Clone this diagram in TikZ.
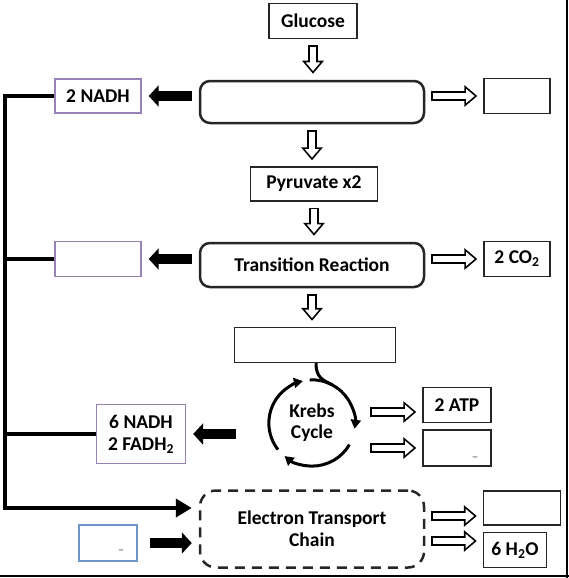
\documentclass[tikz,border=0pt]{standalone}
\usepackage{fontspec}
\setmainfont{Carlito}
\usetikzlibrary{arrows.meta,positioning}
\definecolor{purpedge}{RGB}{150,130,180}
\definecolor{blueedge}{RGB}{110,150,200}

\begin{document}
\begin{tikzpicture}[x=1pt,y=-1pt,
  box/.style={draw=black!85,line width=1.4pt,inner sep=2pt,align=center,
    font=\fontsize{19.5}{22}\selectfont\bfseries},
  stage/.style={box,rounded corners=10pt,line width=2.5pt,minimum width=224pt},
  hol/.style={line width=10pt,-{Triangle[length=13pt,width=21pt]},shorten <=6pt,shorten >=6pt,
    postaction={draw=white,line width=6.6pt,shorten <=7.7pt,shorten >=8.7pt,
      -{Triangle[length=8.6pt,width=13.9pt]}}},
  blk/.style={line width=9.5pt,-{Triangle[length=10pt,width=21pt]},shorten <=7pt,shorten >=7pt},
  bus/.style={line width=4.5pt},
  cyc/.style={line width=3pt,-{Triangle[length=9pt,width=10pt]}}]
\useasboundingbox (0,0) rectangle (569,578);

% main column
\node[box,minimum width=88pt,minimum height=35pt] (glucose) at (313,21) {Glucose};
\node[stage,minimum height=42pt] (glyco) at (312,102) {};
\node[box,minimum width=127pt,minimum height=34pt] (pyruvate) at (314,184) {Pyruvate x2};
\node[stage,minimum height=44pt] (transition) at (312,265) {Transition Reaction};
\node[box,minimum width=161pt,minimum height=35pt] (acetyl) at (315,345) {};
\node[circle,minimum size=86pt,inner sep=0pt,align=center,
  font=\fontsize{19.5}{21}\selectfont\bfseries] (krebs) at (312,423) {Krebs\\Cycle};
\node[stage,dashed,dash pattern=on 10pt off 7pt,rounded corners=16pt,minimum height=77pt]
  (etc) at (312,529) {Electron Transport\\Chain};

% left side
\node[box,draw=purpedge,minimum width=86pt,minimum height=34pt] (nadhA) at (98,96) {2 NADH};
\node[box,draw=purpedge,minimum width=86pt,minimum height=35pt] (nadhB) at (98,259) {};
\node[box,draw=purpedge,minimum width=89pt,minimum height=59pt] (nadhC) at (141,434) {6 NADH\\2 FADH\textsubscript{2}};
\node[box,draw=blueedge,minimum width=58pt,minimum height=36pt] (oxygen) at (108,543) {};

% right side
\node[box,minimum width=66pt,minimum height=35pt] (atpA) at (517,96) {};
\node[box,minimum width=66pt,minimum height=35pt] (co2) at (517,259) {2 CO\textsubscript{2}};
\node[box,minimum width=68pt,minimum height=35pt] (atpB) at (457,405) {2 ATP};
\node[box,minimum width=68pt,minimum height=36pt] (fadh) at (457,448) {};
\node[box,minimum width=77pt,minimum height=34pt] (atpC) at (522,508) {};
\node[box,minimum width=63pt,minimum height=35pt] (water) at (515,550) {6 H\textsubscript{2}O};

% blanks
\node[font=\fontsize{9}{9}\selectfont] (blankA) at (475,457) {\_};
\node[font=\fontsize{9}{9}\selectfont] (blankB) at (121,550) {\_};

% hollow arrows
\draw[hol] (glucose.south) -- (glucose.south |- glyco.north);
\draw[hol] (glyco.south) -- (glyco.south |- pyruvate.north);
\draw[hol] (pyruvate.south) -- (pyruvate.south |- transition.north);
\draw[hol] (transition.south) -- (transition.south |- acetyl.north);
\draw[hol] (glyco.east |- atpA.west) -- (atpA.west);
\draw[hol] (transition.east |- co2.west) -- (co2.west);
\draw[hol] ([xshift=-58pt,yshift=-7pt]atpB.west) -- ([yshift=-7pt]atpB.west);
\draw[hol] ([xshift=-58pt]fadh.west) -- (fadh.west);
\draw[hol] ([yshift=13pt]etc.east) -- ([yshift=13pt]etc.east -| atpC.west);
\draw[hol] ([yshift=-12pt]etc.east) -- ([yshift=-12pt]etc.east -| water.west);

% black arrows
\draw[blk] (glyco.west |- nadhA.east) -- (nadhA.east);
\draw[blk] (transition.west |- nadhB.east) -- (nadhB.east);
\draw[blk,shorten <=33pt] (krebs.west |- nadhC.east) -- (nadhC.east);
\draw[blk,shorten <=12pt] (oxygen.east) -- (oxygen.east -| etc.west);

% carrier line
\coordinate (busT) at (5,96);
\coordinate (busB) at (5,508);
\draw[bus,-{Triangle[length=16pt,width=18pt]},shorten >=7pt] (nadhA.west) -- (busT) -- (busB) -- (busB -| etc.west);
\draw[bus] (nadhB.west) -- (nadhB.west -| busT);
\draw[bus] (nadhC.west) -- (nadhC.west -| busT);

% krebs cycle
\draw[line width=3pt] ([xshift=1pt]acetyl.south) .. controls +(0pt,-14pt) and +(-10pt,5pt) .. (krebs.62);
\draw[cyc] (krebs.218) arc[start angle=218,end angle=102,radius=43pt];
\draw[cyc] (krebs.93) arc[start angle=93,end angle=-8,radius=43pt];
\draw[cyc] (krebs.-30) arc[start angle=-30,end angle=-130,radius=43pt];

% frame
\draw[line width=2pt] (567,0) -- (567,578);
\draw[line width=2pt] (0,576) -- (569,576);
\end{tikzpicture}
\end{document}
